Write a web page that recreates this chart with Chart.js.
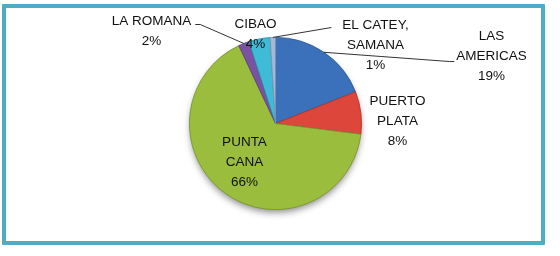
<!DOCTYPE html>
<html>
<head>
<meta charset="utf-8">
<script src="https://cdn.jsdelivr.net/npm/chart.js@4"></script>
<style>
  html, body { margin: 0; padding: 0; background: #fff; }
  #wrap { position: relative; width: 560px; height: 256px; }
  #marco {
    position: absolute; left: 2px; top: 4px; width: 543px; height: 241px;
    box-sizing: border-box; border: 4px solid #4eacc6; border-radius: 1px;
  }
  #grafico { position: absolute; left: 0; top: 0; }
</style>
</head>
<body>
<div id="wrap">
  <div id="marco"></div>
  <canvas id="grafico" width="560" height="256"></canvas>
</div>
<script>
// Datos del gráfico (porcentaje por aeropuerto)
const categorias = ['LAS AMERICAS', 'PUERTO PLATA', 'PUNTA CANA', 'LA ROMANA', 'CIBAO', 'EL CATEY, SAMANA'];
const lineasEtiqueta = [['LAS', 'AMERICAS'], ['PUERTO', 'PLATA'], ['PUNTA', 'CANA'], ['LA ROMANA'], ['CIBAO'], ['EL CATEY,', 'SAMANA']];
const porcentajes = [19, 8, 66, 2, 4, 1];
const colores = ['#3b71ba', '#dc463b', '#9abd3d', '#7b51a2', '#3fbad7', '#a2b8d8'];
const bordes = ['#2a5490', '#a8322a', '#74922a', '#5a397c', '#2a8ea8', '#7d92b2'];

// Ubicación de cada etiqueta respecto al centro de la torta (px)
const ubicaciones = [
    { dx: 216, dy: -67, guia: { linea: 1, lado: 'izq', sep: 2, tramo: 5, dy: 5 } },
    { dx: 122, dy: -2 },
    { dx: -31, dy: 39 },
    { dx: -124, dy: -92, guia: { linea: 0, lado: 'der', sep: 4, tramo: 5, dy: 3 } },
    { dx: -20, dy: -89 },
    { dx: 100, dy: -78, guia: { linea: 0, lado: 'izq', sep: 11, tramo: 0, dy: 2 } }
];

const FUENTE = '13.5px "Liberation Sans", Arial, sans-serif';
const ALTO_LINEA = 20;

function degradado(context) {
    const chart = context.chart;
    const arc = chart.getDatasetMeta(0).data[context.dataIndex];
    const base = colores[context.dataIndex];
    if (!arc || !arc.outerRadius) return base;
    const g = chart.ctx.createRadialGradient(arc.x, arc.y, 0, arc.x, arc.y, arc.outerRadius);
    g.addColorStop(0, base);
    g.addColorStop(0.88, base);
    g.addColorStop(1, bordes[context.dataIndex]);
    return g;
}

// Sombra debajo de la torta
const sombra = {
    id: 'sombra',
    beforeDatasetsDraw(chart) {
        const arc = chart.getDatasetMeta(0).data[0];
        if (!arc) return;
        const ctx = chart.ctx;
        ctx.save();
        ctx.shadowColor = 'rgba(0,0,0,0.45)';
        ctx.shadowBlur = 7;
        ctx.shadowOffsetY = 4;
        ctx.beginPath();
        ctx.arc(arc.x, arc.y, arc.outerRadius - 1, 0, Math.PI * 2);
        ctx.fillStyle = '#fff';
        ctx.fill();
        ctx.restore();
    }
};

// Etiquetas con líneas guía
const etiquetas = {
    id: 'etiquetas',
    afterDatasetsDraw(chart) {
        const ctx = chart.ctx;
        const meta = chart.getDatasetMeta(0);
        ctx.save();
        ctx.font = FUENTE;
        ctx.textAlign = 'center';
        ctx.textBaseline = 'middle';
        meta.data.forEach((arc, i) => {
            const u = ubicaciones[i];
            const lineas = lineasEtiqueta[i].concat([porcentajes[i] + '%']);
            const cx = arc.x + u.dx;
            const cy = arc.y + u.dy;
            const y0 = cy - (lineas.length - 1) * ALTO_LINEA / 2;

            if (u.guia) {
                const g = u.guia;
                const ancho = ctx.measureText(lineas[g.linea]).width;
                const ly = y0 + g.linea * ALTO_LINEA + g.dy;
                const lx = g.lado === 'izq' ? cx - ancho / 2 - g.sep : cx + ancho / 2 + g.sep;
                const lx2 = g.lado === 'izq' ? lx - g.tramo : lx + g.tramo;
                const medio = (arc.startAngle + arc.endAngle) / 2;
                const px = arc.x + Math.cos(medio) * arc.outerRadius;
                const py = arc.y + Math.sin(medio) * arc.outerRadius;
                ctx.beginPath();
                ctx.moveTo(lx, ly);
                ctx.lineTo(lx2, ly);
                ctx.lineTo(px, py);
                ctx.strokeStyle = '#333';
                ctx.lineWidth = 1;
                ctx.stroke();
            }

            ctx.fillStyle = '#111';
            lineas.forEach((t, k) => ctx.fillText(t, cx, y0 + k * ALTO_LINEA));
        });
        ctx.restore();
    }
};

new Chart(document.getElementById('grafico'), {
    type: 'pie',
    data: {
        labels: categorias,
        datasets: [{
            data: porcentajes,
            backgroundColor: degradado,
            borderColor: bordes,
            borderWidth: 0.8
        }]
    },
    options: {
        responsive: false,
        animation: false,
        events: [],
        layout: { padding: { left: 189, right: 198, top: 37, bottom: 46 } },
        plugins: {
            legend: { display: false },
            tooltip: { enabled: false }
        }
    },
    plugins: [sombra, etiquetas]
});
</script>
</body>
</html>
